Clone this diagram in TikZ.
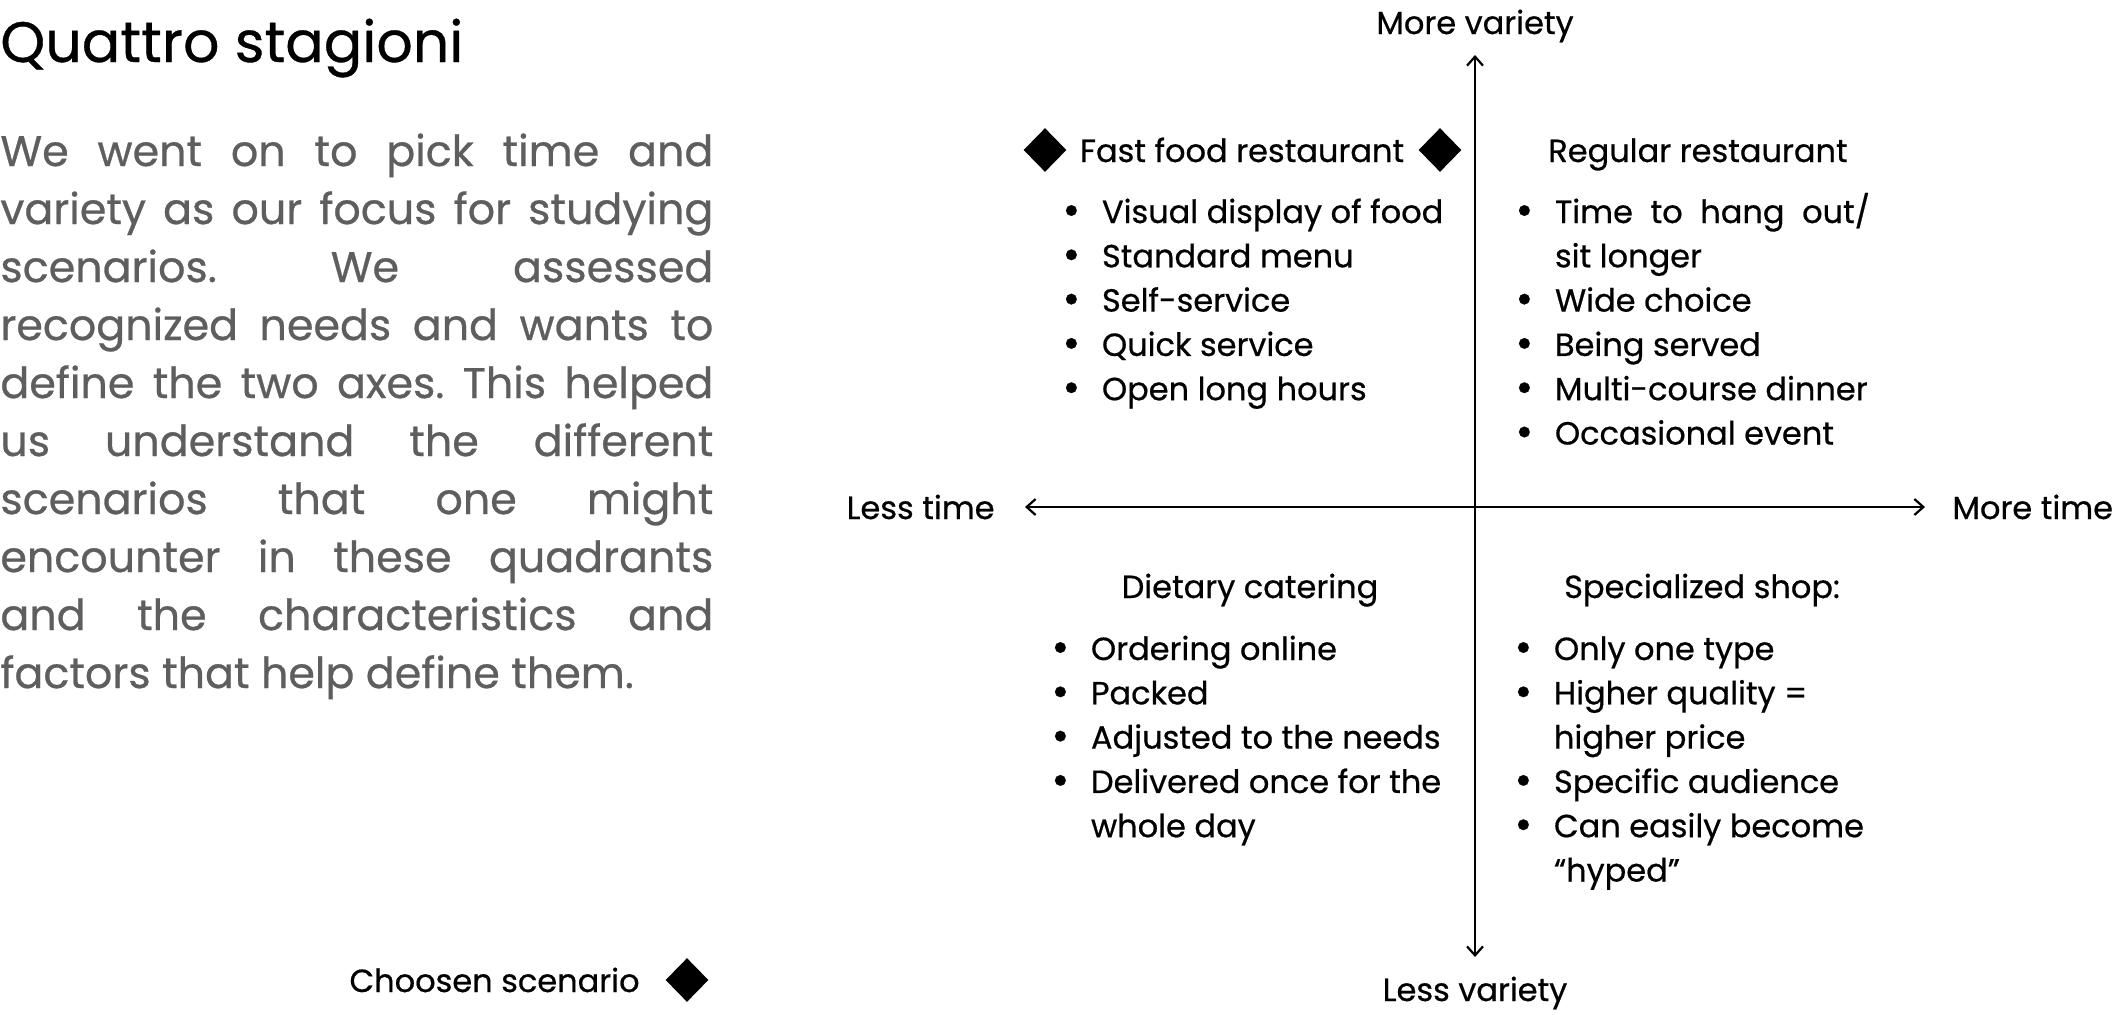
\documentclass[tikz,border=0pt]{standalone}
\usepackage{fontspec}
\usepackage{graphicx}
\setmainfont{Poppins}[UprightFeatures={FakeBold=0.6}]
\usetikzlibrary{arrows.meta,shapes.geometric}
\definecolor{bodygray}{HTML}{5E5E5E}
\frenchspacing
\newcommand{\bul}{\makebox[0pt]{\raisebox{-0.06em}{\scalebox{1.35}{•}}}\hspace{15.3pt}}
\newcommand{\cont}{\hspace*{15.3pt}}
\newcommand{\jl}[1]{\makebox[356.5pt][s]{#1}}
\begin{document}
\begin{tikzpicture}[x=0.5pt,y=-0.5pt,
  lbl/.style={font=\fontsize{16}{20}\selectfont, inner sep=0pt},
  lst/.style={font=\fontsize{16}{22.15}\selectfont, inner sep=0pt, anchor=base west},
  gem/.style={diamond, fill=black, draw=none, inner sep=0pt, minimum width=21.5pt, minimum height=22pt},
  axis/.style={line width=1.1pt, {Straight Barb[length=4.5pt,width=8pt]}-{Straight Barb[length=4.5pt,width=8pt]}}]
\path[fill=white,use as bounding box] (0,0) rectangle (2120,1014);

% left column
\node[font=\fontsize{28.5}{34}\selectfont, inner sep=0pt, anchor=base west] (title) at (0,62) {Quattro stagioni};
\node[font=\fontsize{21.4}{29}\selectfont, text=bodygray, inner sep=0pt, anchor=base west] (para) at (0,166)
 {\begin{tabular}[t]{@{}l@{}}
  \jl{We went on to pick time and}\\
  \jl{variety as our focus for studying}\\
  \jl{scenarios. We assessed}\\
  \jl{recognized needs and wants to}\\
  \jl{define the two axes. This helped}\\
  \jl{us understand the different}\\
  \jl{scenarios that one might}\\
  \jl{encounter in these quadrants}\\
  \jl{and the characteristics and}\\
  factors that help define them.
 \end{tabular}};
\node[lbl, anchor=base east] (cs) at (640,992) {Choosen scenario};
\node[gem] (dchosen) at (687,980) {};

% axes
\coordinate (vtop) at (1475,55);
\coordinate (vbot) at (1475,957);
\coordinate (hleft) at (1025,507);
\coordinate (hright) at (1925,507);
\draw[axis] (vbot) -- (vtop);
\draw[axis] (hleft) -- (hright);
\node[lbl, anchor=base] (mv) at (1475,34) {More variety};
\node[lbl, anchor=base] (lv) at (1475,1001) {Less variety};
\node[lbl, anchor=base east] (lt) at (995,519) {Less time};
\node[lbl, anchor=base west] (mt) at (1952,519) {More time};

% quadrant headers
\node[gem] (dl) at (1045,150) {};
\node[gem] (dr) at (1440,150) {};
\node[lbl, anchor=base] (ffhead) at (1242,162) {Fast food restaurant};
\node[lbl, anchor=base] (rrhead) at (1698,162) {Regular restaurant};
\node[lbl, anchor=base] (dchead) at (1250,598) {Dietary catering};
\node[lbl, anchor=base] (sshead) at (1702,598) {Specialized shop:};

% lists
\node[lst] (fflist) at (1071,223)
 {\begin{tabular}[t]{@{}l@{}}
  \bul Visual display of food\\
  \bul Standard menu\\
  \bul Self-service\\
  \bul Quick service\\
  \bul Open long hours
 \end{tabular}};
\node[lst] (rrlist) at (1524,223)
 {\begin{tabular}[t]{@{}l@{}}
  \bul \makebox[157.5pt][s]{Time to hang out/}\\
  \cont sit longer\\
  \bul Wide choice\\
  \bul Being served\\
  \bul Multi-course dinner\\
  \bul Occasional event
 \end{tabular}};
\node[lst] (dclist) at (1060,660)
 {\begin{tabular}[t]{@{}l@{}}
  \bul Ordering online\\
  \bul Packed\\
  \bul Adjusted to the needs\\
  \bul Delivered once for the\\
  \cont whole day
 \end{tabular}};
\node[lst] (sslist) at (1523,660)
 {\begin{tabular}[t]{@{}l@{}}
  \bul Only one type\\
  \bul Higher quality =\\
  \cont higher price\\
  \bul Specific audience\\
  \bul Can easily become\\
  \cont “hyped”
 \end{tabular}};
\end{tikzpicture}
\end{document}
